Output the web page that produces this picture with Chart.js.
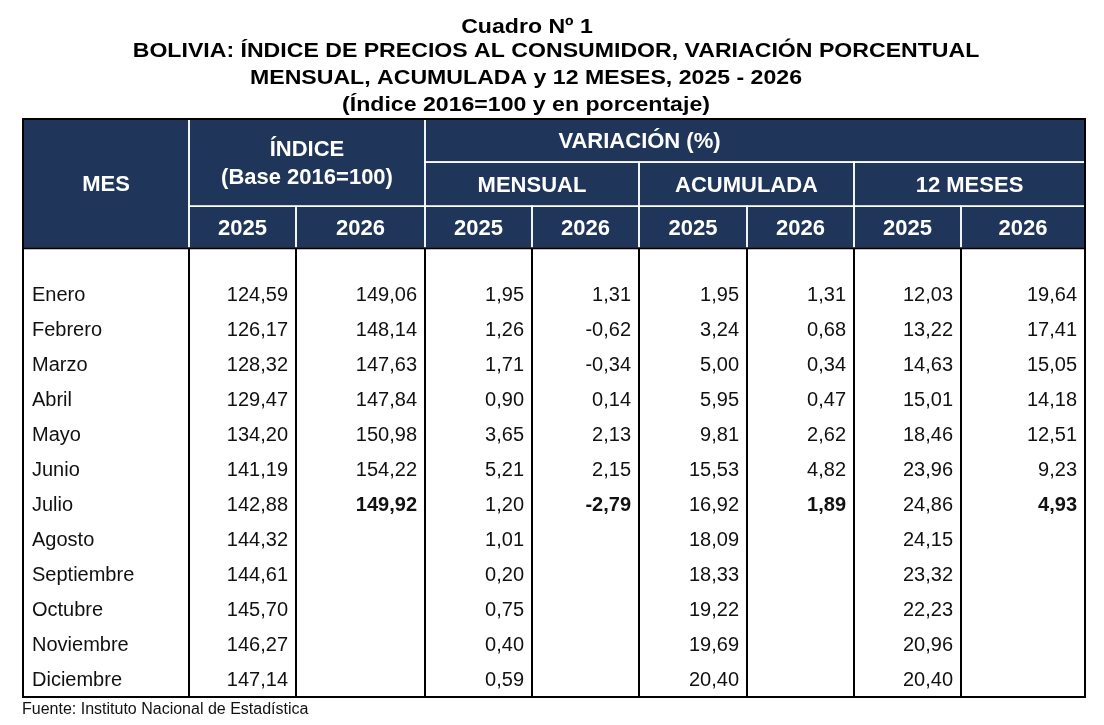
<!DOCTYPE html>
<html lang="es">
<head>
<meta charset="utf-8">
<title>Cuadro Nº 1 - IPC Bolivia</title>
<script src="https://cdn.jsdelivr.net/npm/chart.js@4.4.1/dist/chart.umd.min.js"></script>
<style>
  html, body { margin: 0; padding: 0; background: #fff; }
  #wrap { width: 1104px; height: 725px; position: relative; }
</style>
</head>
<body>
<div id="wrap"><canvas id="cuadro"></canvas></div>
<script>
// ================================
// DATOS DEL CUADRO
// ================================
const meses = ["Enero", "Febrero", "Marzo", "Abril", "Mayo", "Junio", "Julio",
  "Agosto", "Septiembre", "Octubre", "Noviembre", "Diciembre"];

const indice2025 = [124.59, 126.17, 128.32, 129.47, 134.20, 141.19, 142.88, 144.32, 144.61, 145.70, 146.27, 147.14];
const indice2026 = [149.06, 148.14, 147.63, 147.84, 150.98, 154.22, 149.92];

const mensual2025 = [1.95, 1.26, 1.71, 0.90, 3.65, 5.21, 1.20, 1.01, 0.20, 0.75, 0.40, 0.59];
const mensual2026 = [1.31, -0.62, -0.34, 0.14, 2.13, 2.15, -2.79];

const acumulada2025 = [1.95, 3.24, 5.00, 5.95, 9.81, 15.53, 16.92, 18.09, 18.33, 19.22, 19.69, 20.40];
const acumulada2026 = [1.31, 0.68, 0.34, 0.47, 2.62, 4.82, 1.89];

const doceMeses2025 = [12.03, 13.22, 14.63, 15.01, 18.46, 23.96, 24.86, 24.15, 23.32, 22.23, 20.96, 20.40];
const doceMeses2026 = [19.64, 17.41, 15.05, 14.18, 12.51, 9.23, 4.93];

const anios = ["2025", "2026"];

const titulos = [
  "Cuadro Nº 1",
  "BOLIVIA: ÍNDICE DE PRECIOS AL CONSUMIDOR, VARIACIÓN PORCENTUAL",
  "MENSUAL, ACUMULADA y 12 MESES, 2025 - 2026",
  "(Índice 2016=100 y en porcentaje)"
];
const fuente = "Fuente: Instituto Nacional de Estadística";

// ================================
// DISEÑO (anchos de columna y filas de cabecera)
// ================================
const anchosCol = [166, 107, 129, 107, 107, 108, 107, 107, 124];
const bordesCol = anchosCol.reduce((acc, w) => { acc.push(acc[acc.length - 1] + w); return acc; }, [0]);
const bordesCab = [-5, -3.77, -2.51, -1.31]; // en unidades de fila del eje y

// posición de las líneas del título (centro x, línea base)
const posTitulos = [[527, 33], [556, 57], [526, 84], [526, 111]];

const AZUL = "#1f365a";
const FUENTE = "'Liberation Sans', Arial, sans-serif";

// celdas de cabecera: columnas [c0,c1], filas [f0,f1], texto (tc = columnas donde se centra el texto)
const cabecera = [
  { c: [0, 1], f: [0, 3], t: ["MES"] },
  { c: [1, 3], f: [0, 2], t: ["ÍNDICE", "(Base 2016=100)"] },
  { c: [3, 9], f: [0, 1], t: ["VARIACIÓN (%)"], tc: [3, 7] },
  { c: [3, 5], f: [1, 2], t: ["MENSUAL"] },
  { c: [5, 7], f: [1, 2], t: ["ACUMULADA"] },
  { c: [7, 9], f: [1, 2], t: ["12 MESES"] },
];
for (let c = 1; c < 9; c++) {
  cabecera.push({ c: [c, c + 1], f: [2, 3], t: [anios[(c - 1) % 2]] });
}

function formato(v) {
  return v.toFixed(2).replace(".", ",");
}

function columna(valores, col, tipo) {
  return {
    label: "col" + col,
    tipo: tipo,
    data: valores.map((v, i) => ({ x: tipo === "mes" ? bordesCol[col] : bordesCol[col + 1], y: i, v: v })),
    pointRadius: 0,
    pointHoverRadius: 0,
  };
}

const datasets = [
  columna(meses, 0, "mes"),
  columna(indice2025, 1, "num"),
  columna(indice2026, 2, "num26"),
  columna(mensual2025, 3, "num"),
  columna(mensual2026, 4, "num26"),
  columna(acumulada2025, 5, "num"),
  columna(acumulada2026, 6, "num26"),
  columna(doceMeses2025, 7, "num"),
  columna(doceMeses2026, 8, "num26"),
];

// ================================
// PLUGIN QUE DIBUJA LA TABLA
// ================================
const tablaPlugin = {
  id: "tabla",
  beforeDatasetsDraw(chart) {
    const { ctx, scales: { x, y }, chartArea } = chart;
    const px = (c) => x.getPixelForValue(bordesCol[c]);
    const py = (f) => y.getPixelForValue(bordesCab[f]);
    ctx.save();

    // título (fuente algo ensanchada como en el original)
    ctx.fillStyle = "#000000";
    ctx.textAlign = "center";
    ctx.textBaseline = "alphabetic";
    ctx.font = "bold 21px " + FUENTE;
    titulos.forEach((t, i) => {
      ctx.save();
      ctx.translate(posTitulos[i][0], posTitulos[i][1]);
      ctx.scale(1.1, 1);
      ctx.fillText(t, 0, 0);
      ctx.restore();
    });

    // fondo de cabecera
    ctx.fillStyle = AZUL;
    ctx.fillRect(px(0), py(0), px(9) - px(0), py(3) - py(0));

    // celdas de cabecera
    ctx.strokeStyle = "#ffffff";
    ctx.lineWidth = 1.5;
    ctx.fillStyle = "#ffffff";
    ctx.textAlign = "center";
    ctx.textBaseline = "middle";
    ctx.font = "bold 22px " + FUENTE;
    cabecera.forEach((cel) => {
      const x0 = px(cel.c[0]), x1 = px(cel.c[1]);
      const y0 = py(cel.f[0]), y1 = py(cel.f[1]);
      ctx.strokeRect(x0, y0, x1 - x0, y1 - y0);
      const tc = cel.tc || cel.c;
      const cx = (px(tc[0]) + px(tc[1])) / 2, cy = (y0 + y1) / 2 + 1.5;
      const n = cel.t.length;
      cel.t.forEach((t, i) => {
        ctx.fillText(t, cx, cy + (i - (n - 1) / 2) * 28);
      });
    });

    // líneas negras del cuerpo
    ctx.strokeStyle = "#000000";
    ctx.lineWidth = 2;
    for (let c = 1; c < 9; c++) {
      ctx.beginPath();
      ctx.moveTo(px(c), py(3));
      ctx.lineTo(px(c), chartArea.bottom);
      ctx.stroke();
    }
    ctx.beginPath();
    ctx.moveTo(px(0), py(3));
    ctx.lineTo(px(9), py(3));
    ctx.stroke();
    ctx.strokeRect(px(0), py(0), px(9) - px(0), chartArea.bottom - py(0));

    // fuente
    ctx.fillStyle = "#111111";
    ctx.textAlign = "left";
    ctx.textBaseline = "alphabetic";
    ctx.font = "16px " + FUENTE;
    ctx.fillText(fuente, px(0) - 1, chartArea.bottom + 17);
    ctx.restore();
  },
  afterDatasetsDraw(chart) {
    const { ctx } = chart;
    ctx.save();
    ctx.fillStyle = "#111111";
    ctx.textBaseline = "middle";
    chart.data.datasets.forEach((ds, di) => {
      const meta = chart.getDatasetMeta(di);
      meta.data.forEach((pt, i) => {
        const d = ds.data[i];
        const negrita = ds.tipo === "num26" && i === ds.data.length - 1;
        ctx.font = (negrita ? "bold " : "") + "20px " + FUENTE;
        if (ds.tipo === "mes") {
          ctx.textAlign = "left";
          ctx.fillText(d.v, pt.x + 9, pt.y + 1);
        } else {
          ctx.textAlign = "right";
          ctx.fillText(formato(d.v), pt.x - 8, pt.y + 1);
        }
      });
    });
    ctx.restore();
  },
};

new Chart(document.getElementById("cuadro"), {
  type: "scatter",
  data: { datasets: datasets },
  options: {
    responsive: true,
    maintainAspectRatio: false,
    animation: false,
    events: [],
    layout: { padding: { left: 23, right: 19, top: 119, bottom: 28 } },
    scales: {
      x: { type: "linear", display: false, min: 0, max: bordesCol[bordesCol.length - 1] },
      y: { type: "linear", display: false, min: -5, max: 11.5, reverse: true },
    },
    plugins: {
      legend: { display: false },
      tooltip: { enabled: false },
      title: { display: false },
    },
  },
  plugins: [tablaPlugin],
});
</script>
</body>
</html>
